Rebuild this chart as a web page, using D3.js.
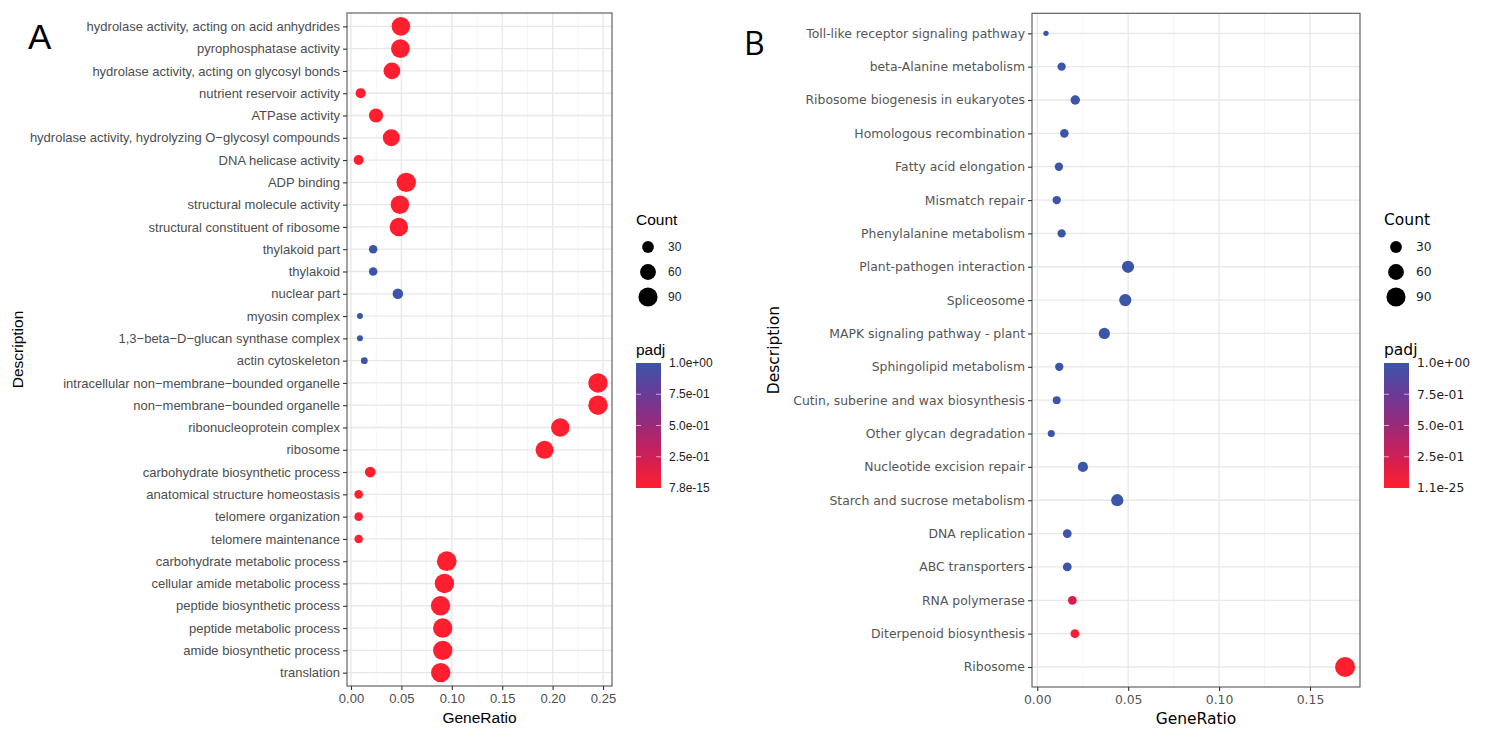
<!DOCTYPE html>
<html>
<head>
<meta charset="utf-8">
<script src="https://cdn.jsdelivr.net/npm/d3@7"></script>
<style>
  body { margin: 0; background: #fff; }
  svg { display: block; }
</style>
</head>
<body>
<svg id="chart" width="1490" height="739"></svg>
<script>
// Panel A: GO terms (top to bottom)
const goTerms = [
  "hydrolase activity, acting on acid anhydrides",
  "pyrophosphatase activity",
  "hydrolase activity, acting on glycosyl bonds",
  "nutrient reservoir activity",
  "ATPase activity",
  "hydrolase activity, hydrolyzing O\u2212glycosyl compounds",
  "DNA helicase activity",
  "ADP binding",
  "structural molecule activity",
  "structural constituent of ribosome",
  "thylakoid part",
  "thylakoid",
  "nuclear part",
  "myosin complex",
  "1,3\u2212beta\u2212D\u2212glucan synthase complex",
  "actin cytoskeleton",
  "intracellular non\u2212membrane\u2212bounded organelle",
  "non\u2212membrane\u2212bounded organelle",
  "ribonucleoprotein complex",
  "ribosome",
  "carbohydrate biosynthetic process",
  "anatomical structure homeostasis",
  "telomere organization",
  "telomere maintenance",
  "carbohydrate metabolic process",
  "cellular amide metabolic process",
  "peptide biosynthetic process",
  "peptide metabolic process",
  "amide biosynthetic process",
  "translation"
];
const goRatio = [0.0495, 0.049, 0.0406, 0.0096, 0.0248, 0.040, 0.0076, 0.0548, 0.0485, 0.0475,
                 0.022, 0.022, 0.0465, 0.0089, 0.0089, 0.0132, 0.245, 0.245, 0.2076, 0.192,
                 0.0191, 0.0076, 0.0076, 0.0076, 0.095, 0.0927, 0.0888, 0.091, 0.091, 0.089];
const goCount = [84, 86, 67, 21, 46, 70, 20, 93, 84, 84,
                 13, 13, 23, 3, 3, 6, 93, 93, 84, 80,
                 24, 13, 13, 13, 96, 93, 93, 93, 93, 93];
const goPadj = [1e-6, 1e-6, 1e-5, 2e-3, 1e-4, 1e-5, 3e-3, 1e-8, 1e-7, 1e-8,
                1, 1, 1, 1, 1, 1, 7.8e-15, 7.8e-15, 1e-12, 1e-12,
                4e-3, 5e-3, 5e-3, 5e-3, 1e-9, 1e-9, 1e-9, 1e-9, 1e-9, 1e-9];
const goPadjLabels = ["1.0e+00", "7.5e-01", "5.0e-01", "2.5e-01", "7.8e-15"];

// Panel B: KEGG pathways (top to bottom)
const keggTerms = [
  "Toll-like receptor signaling pathway",
  "beta-Alanine metabolism",
  "Ribosome biogenesis in eukaryotes",
  "Homologous recombination",
  "Fatty acid elongation",
  "Mismatch repair",
  "Phenylalanine metabolism",
  "Plant-pathogen interaction",
  "Spliceosome",
  "MAPK signaling pathway - plant",
  "Sphingolipid metabolism",
  "Cutin, suberine and wax biosynthesis",
  "Other glycan degradation",
  "Nucleotide excision repair",
  "Starch and sucrose metabolism",
  "DNA replication",
  "ABC transporters",
  "RNA polymerase",
  "Diterpenoid biosynthesis",
  "Ribosome"
];
const keggRatio = [0.0048, 0.0134, 0.0209, 0.0149, 0.0119, 0.0107, 0.0134, 0.0499, 0.0484, 0.0369,
                   0.0121, 0.0107, 0.0077, 0.0251, 0.044, 0.0165, 0.0165, 0.0193, 0.0207, 0.1693];
const keggCount = [1, 12, 17, 13, 12, 12, 12, 33, 33, 27,
                   12, 10, 7, 21, 33, 14, 14, 14, 14, 100];
const keggPadj = [1, 1, 1, 1, 1, 1, 1, 1, 1, 1,
                  1, 1, 1, 1, 1, 1, 1, 0.22, 0.04, 1.1e-25];
const keggPadjLabels = ["1.0e+00", "7.5e-01", "5.0e-01", "2.5e-01", "1.1e-25"];

const countBreaks = [30, 60, 90];
const padjBreaks = [1, 0.75, 0.5, 0.25, 0];

const svg = d3.select("#chart");
// red (low padj) to blue (high padj), through crimson and purple
const colorScale = d3.scaleLinear()
  .domain([0, 0.25, 0.5, 0.75, 1])
  .range(["#ff1f2e", "#d01f55", "#9a2a78", "#6a3a98", "#3b55a8"])
  .interpolate(d3.interpolateRgb);
// point area grows linearly with Count
const areaScale = d3.scaleLinear().domain([1, 100]).range([7, 101]);
const radius = c => Math.sqrt(areaScale(c));

// gradient for the colour bars
const grad = svg.append("defs").append("linearGradient")
  .attr("id", "padjGrad").attr("x1", 0).attr("y1", 1).attr("x2", 0).attr("y2", 0);
d3.range(0, 1.001, 0.05).forEach(t => {
  grad.append("stop").attr("offset", t).attr("stop-color", colorScale(t));
});

function drawPanel(cfg) {
  const g = svg.append("g").style("font-family", cfg.font);

  const x = d3.scaleLinear().domain(cfg.xDomain).range([cfg.left, cfg.right]);
  const y = d3.scalePoint().domain(cfg.terms).range([cfg.top, cfg.bottom]).padding(0.6);

  // minor + major grid
  g.selectAll(".minor").data(cfg.minorTicks).join("line")
    .attr("x1", d => x(d)).attr("x2", d => x(d))
    .attr("y1", cfg.top).attr("y2", cfg.bottom)
    .attr("stroke", "#f2f2f2").attr("stroke-width", 0.8);
  g.selectAll(".vmajor").data(cfg.xTicks).join("line")
    .attr("x1", d => x(d)).attr("x2", d => x(d))
    .attr("y1", cfg.top).attr("y2", cfg.bottom)
    .attr("stroke", "#e8e8e8").attr("stroke-width", 1.3);
  g.selectAll(".hmajor").data(cfg.terms).join("line")
    .attr("x1", cfg.left).attr("x2", cfg.right)
    .attr("y1", d => y(d)).attr("y2", d => y(d))
    .attr("stroke", "#e8e8e8").attr("stroke-width", 1.3);

  // points
  g.selectAll(".pt").data(cfg.terms.map((t, i) => ({ t, r: cfg.ratio[i], c: cfg.count[i], p: cfg.padj[i] })))
    .join("circle")
    .attr("cx", d => x(d.r)).attr("cy", d => y(d.t))
    .attr("r", d => radius(d.c))
    .attr("fill", d => colorScale(d.p));

  // panel border
  g.append("rect")
    .attr("x", cfg.left).attr("y", cfg.top)
    .attr("width", cfg.right - cfg.left).attr("height", cfg.bottom - cfg.top)
    .attr("fill", "none").attr("stroke", "#555").attr("stroke-width", 1.1);

  // axes
  const yAxis = g.append("g").attr("transform", `translate(${cfg.left},0)`)
    .call(d3.axisLeft(y).tickSize(4).tickPadding(3));
  const xAxis = g.append("g").attr("transform", `translate(0,${cfg.bottom})`)
    .call(d3.axisBottom(x).tickValues(cfg.xTicks).tickFormat(d3.format(".2f")).tickSize(4).tickPadding(4));
  [yAxis, xAxis].forEach(a => {
    a.select(".domain").remove();
    a.selectAll(".tick line").attr("stroke", "#333").attr("stroke-width", 1.1);
    a.selectAll("text").attr("fill", cfg.textColor).style("font-family", cfg.font);
  });
  yAxis.selectAll("text").style("font-size", cfg.yFont + "px");
  xAxis.selectAll("text").style("font-size", cfg.xFont + "px");

  g.append("text")
    .attr("x", (cfg.left + cfg.right) / 2).attr("y", cfg.bottom + 37)
    .attr("text-anchor", "middle").style("font-size", "15.5px").attr("fill", "#000")
    .text("GeneRatio");
  g.append("text")
    .attr("transform", `translate(${cfg.descX},${(cfg.top + cfg.bottom) / 2}) rotate(-90)`)
    .attr("text-anchor", "middle").style("font-size", "15.5px").attr("fill", "#000")
    .text("Description");

  // panel letter
  g.append("text").attr("x", cfg.letterX).attr("y", cfg.letterY)
    .style("font-family", cfg.letterFont).style("font-size", cfg.letterSize + "px")
    .attr("fill", "#000").text(cfg.letter);

  // Count legend
  const lx = cfg.legendX;
  g.append("text").attr("x", lx).attr("y", 225).style("font-size", "15.5px").text("Count");
  const leg = g.selectAll(".leg").data(countBreaks).join("g")
    .attr("transform", (d, i) => `translate(${lx + 12},${247 + i * 25})`);
  leg.append("circle").attr("r", d => radius(d)).attr("fill", "#000");
  leg.append("text").attr("x", 20).attr("dy", "0.35em")
    .style("font-size", cfg.legFont + "px").attr("fill", "#222").text(d => d);

  // padj colour bar
  g.append("text").attr("x", lx).attr("y", 355).style("font-size", "15.5px").text("padj");
  const barY = d3.scaleLinear().domain([0, 1]).range([488, 363]);
  g.append("rect").attr("x", lx).attr("y", 363).attr("width", 25).attr("height", 125)
    .attr("fill", "url(#padjGrad)");
  g.selectAll(".btick").data(padjBreaks.slice(1, 4)).join("g").each(function (d) {
    const s = d3.select(this);
    s.append("line").attr("x1", lx).attr("x2", lx + 5).attr("y1", barY(d)).attr("y2", barY(d))
      .attr("stroke", "#fff").attr("stroke-opacity", 0.6);
    s.append("line").attr("x1", lx + 20).attr("x2", lx + 25).attr("y1", barY(d)).attr("y2", barY(d))
      .attr("stroke", "#fff").attr("stroke-opacity", 0.6);
  });
  g.selectAll(".blab").data(padjBreaks).join("text")
    .attr("x", lx + 33).attr("y", d => barY(d)).attr("dy", "0.35em")
    .style("font-size", cfg.legFont + "px").attr("fill", "#222")
    .text((d, i) => cfg.padjLabels[i]);
}

drawPanel({
  terms: goTerms, ratio: goRatio, count: goCount, padj: goPadj, padjLabels: goPadjLabels,
  left: 347, right: 612, top: 13, bottom: 686,
  xDomain: [-0.00396, 0.2589],
  xTicks: [0, 0.05, 0.10, 0.15, 0.20, 0.25],
  minorTicks: [0.025, 0.075, 0.125, 0.175, 0.225],
  font: "'Liberation Sans', Arial, sans-serif", textColor: "#4d4d4d",
  yFont: 13, xFont: 13, legFont: 12,
  descX: 23, letter: "A", letterX: 28, letterY: 49,
  letterFont: "'Liberation Sans', Arial, sans-serif", letterSize: 35,
  legendX: 636
});

drawPanel({
  terms: keggTerms, ratio: keggRatio, count: keggCount, padj: keggPadj, padjLabels: keggPadjLabels,
  left: 1032, right: 1360, top: 13.3, bottom: 687,
  xDomain: [-0.0029, 0.1775],
  xTicks: [0, 0.05, 0.10, 0.15],
  minorTicks: [0.025, 0.075, 0.125, 0.175],
  font: "'DejaVu Sans', sans-serif", textColor: "#555",
  yFont: 12.4, xFont: 12.4, legFont: 12.3,
  descX: 779, letter: "B", letterX: 744, letterY: 55,
  letterFont: "'Open Sans', sans-serif", letterSize: 32,
  legendX: 1384
});
</script>
</body>
</html>
